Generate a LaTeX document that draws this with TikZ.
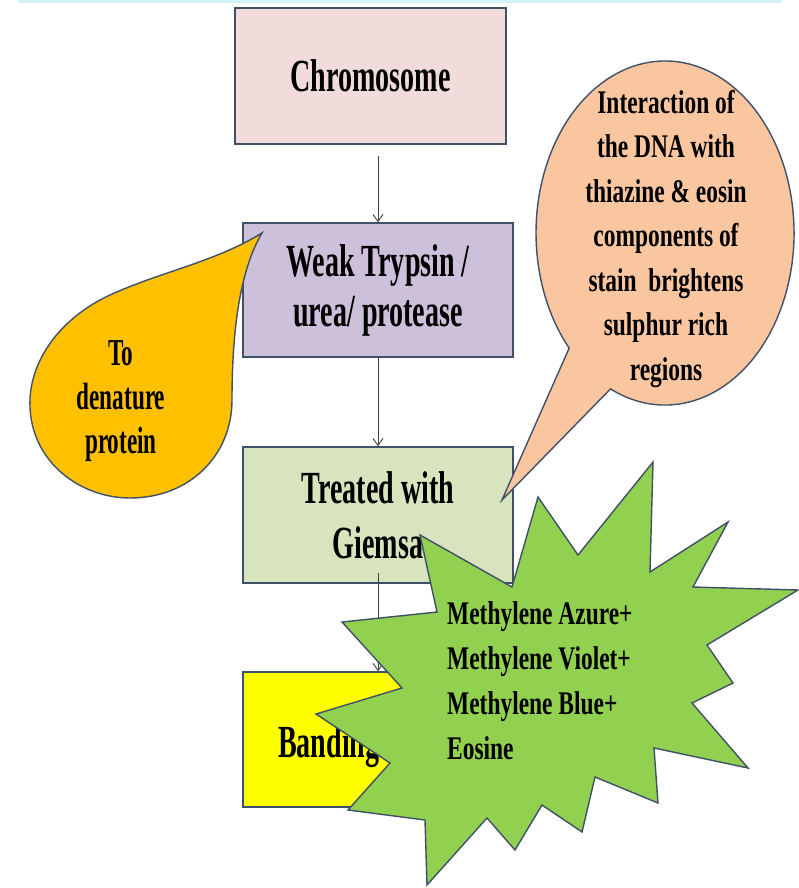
\documentclass[tikz,border=0pt]{standalone}
\usepackage{fontspec}
\newfontfamily\condA{Liberation Serif}[FakeStretch=0.61]
\newfontfamily\condB{Liberation Serif}[FakeStretch=0.71]
\usetikzlibrary{arrows.meta}
\definecolor{edgec}{HTML}{3F5068}
\definecolor{connc}{HTML}{404040}
\definecolor{chromfill}{HTML}{F2DCDB}
\definecolor{weakfill}{HTML}{CCC0DA}
\definecolor{treatfill}{HTML}{D7E4BD}
\definecolor{bandfill}{HTML}{FFFF00}
\definecolor{orangefill}{HTML}{FFC000}
\definecolor{peachfill}{HTML}{FAC6A0}
\definecolor{starfill}{HTML}{92D050}
\definecolor{topband}{HTML}{D4F3F7}
\begin{document}
\begin{tikzpicture}[x=1pt,y=1pt,
  stepbox/.style={draw=edgec, line width=1.6pt, minimum width=270pt,
    minimum height=135pt, inner sep=0pt, align=center,
    font=\condA\bfseries\fontsize{46}{50}\selectfont},
  conn/.style={draw=connc, line width=0.9pt, -{Straight Barb[length=7pt,width=10pt]}},
  callout/.style={draw=edgec, line width=1.4pt, line join=miter},
  calltext/.style={inner sep=0pt, align=center, text=black}]
\useasboundingbox (0,0) rectangle (799,-888);
\fill[topband] (18,0) rectangle (782,-3);

% flow boxes
\node[stepbox, fill=chromfill, minimum width=271pt, minimum height=136pt] (chrom) at (370.5,-76) {Chromosome};
\node[stepbox, fill=weakfill, minimum height=134pt, font=\condA\bfseries\fontsize{46}{50}\selectfont] (weak) at (378,-290) {Weak Trypsin /\\urea/ protease};
\node[stepbox, fill=treatfill, minimum height=136pt, font=\condA\bfseries\fontsize{46}{55}\selectfont] (treat) at (378,-515) {Treated with\\Giemsa};
\node[stepbox, fill=bandfill] (band) at (378,-739.5) {};
\node[inner sep=0pt, anchor=base west, font=\condA\bfseries\fontsize{46}{50}\selectfont] (bandtxt) at (278,-757) {Banding};

% connectors
\draw[conn, shorten <=11pt] (chrom.south -| weak.north) -- (weak.north);
\draw[conn] (weak.south) -- (treat.north);
\draw[conn] ([yshift=11pt]treat.south) -- (band.north);

% left callout
\filldraw[callout, fill=orangefill] (262,-233)
  .. controls (215,-262) and (160,-272) .. (110,-295)
  .. controls (60,-318) and (28,-362) .. (30,-407)
  .. controls (32,-462) and (80,-498) .. (130,-498)
  .. controls (190,-498) and (232,-455) .. (232,-400)
  .. controls (232,-330) and (240,-270) .. (262,-233) -- cycle;
\node[calltext, font=\condA\bfseries\fontsize{38}{44}\selectfont] (dentxt) at (121,-401) {To\\denature\\protein};

% right callout
\filldraw[callout, fill=peachfill] (502,-500) -- (610.5,-388.9)
  arc[start angle=245, end angle=582, x radius=129, y radius=172] -- cycle;
\node[calltext, font=\condB\bfseries\fontsize{33}{44.5}\selectfont] (dnatxt) at (666,-239)
  {Interaction of\\the DNA with\\thiazine \& eosin\\components of\\stain\ \ brightens\\sulphur rich\\regions};

% starburst
\filldraw[callout, fill=starfill] (420,-535) -- (512,-587) -- (538,-497) -- (578,-555)
  -- (653,-462) -- (650,-572) -- (728,-522) -- (693,-587) -- (798,-590)
  -- (707,-645) -- (733,-683) -- (692,-703) -- (748,-768) -- (654,-748)
  -- (658,-803) -- (595,-777) -- (582,-832) -- (542,-805) -- (515,-850)
  -- (487,-818) -- (427,-885) -- (425,-820) -- (348,-810) -- (390,-763)
  -- (316,-714) -- (402,-688) -- (342,-622) -- (437,-612) -- cycle;
\node[inner sep=0pt, anchor=west, align=left, font=\condB\bfseries\fontsize{33}{45}\selectfont] (startxt) at (447,-681)
  {Methylene Azure+\\Methylene Violet+\\Methylene Blue+\\Eosine};
\end{tikzpicture}
\end{document}
